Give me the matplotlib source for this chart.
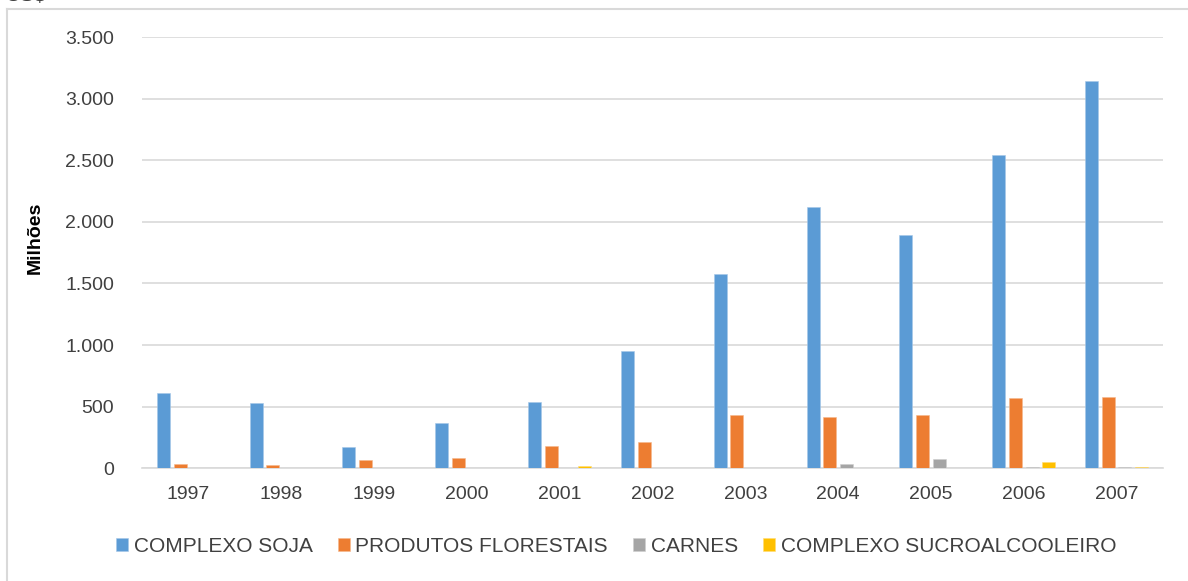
import matplotlib
matplotlib.use("Agg")
import matplotlib.pyplot as plt
from matplotlib.lines import Line2D
from matplotlib.ticker import FuncFormatter
from matplotlib.colors import to_rgb
import numpy as np

plt.rcParams['font.family'] = ['Liberation Sans', 'DejaVu Sans']

# Export values (US$ millions) per year and product group
years = ["1997", "1998", "1999", "2000", "2001", "2002", "2003", "2004", "2005", "2006", "2007"]
series_names = ["COMPLEXO SOJA", "PRODUTOS FLORESTAIS", "CARNES", "COMPLEXO SUCROALCOOLEIRO"]
complexo_soja = [609, 527, 170, 369, 535, 951, 1575, 2117, 1890, 2543, 3146]
produtos_florestais = [35, 24, 66, 85, 180, 213, 434, 420, 434, 568, 582]
carnes = [0, 0, 0, 0, 0, 0, 0, 33, 74, 12, 12]
complexo_sucroalcooleiro = [0, 0, 0, 0, 21, 0, 0, 0, 0, 54, 10]
y_ticks = [0, 500, 1000, 1500, 2000, 2500, 3000, 3500]

colors = ["#5B9BD5", "#ED7D31", "#A5A5A5", "#FFC000"]
series = [complexo_soja, produtos_florestais, carnes, complexo_sucroalcooleiro]


def lighten(c, f=0.45):
    r, g, b = to_rgb(c)
    return (r + (1 - r) * f, g + (1 - g) * f, b + (1 - b) * f)


W, H = 1188, 581
fig = plt.figure(figsize=(W / 100, H / 100), dpi=100)
fig.patch.set_facecolor("white")

ax_left, ax_right = 142, 1163
ax_top, ax_bottom = 37, 468.3
ax = fig.add_axes([ax_left / W, 1 - ax_bottom / H,
                   (ax_right - ax_left) / W, (ax_bottom - ax_top) / H])

x = np.arange(len(years))
pitch = 0.18
bar_w = 0.14
offsets = (np.arange(4) - 1.5) * pitch
for vals, off, c, name in zip(series, offsets, colors, series_names):
    ax.bar(x + off, vals, width=bar_w, color=c, edgecolor=lighten(c),
           linewidth=0.4, label=name, zorder=3)

ax.set_xlim(-0.5, len(years) - 0.5)
ax.set_ylim(0, 3500)
ax.set_yticks(y_ticks)
ax.yaxis.set_major_formatter(FuncFormatter(lambda v, p: f"{int(v):,}".replace(",", ".")))
ax.set_xticks(x)
ax.set_xticklabels(years)
ax.tick_params(axis="both", length=0, labelsize=14, labelcolor="#404040")
ax.tick_params(axis="y", pad=20)
ax.tick_params(axis="x", pad=13)

ax.grid(axis="y", color="#D9D9D9", linewidth=1.2, zorder=0)
ax.set_axisbelow(True)
for s in ["top", "right", "left"]:
    ax.spines[s].set_visible(False)
ax.spines["bottom"].set_color("#D9D9D9")
ax.spines["bottom"].set_linewidth(1.2)
ax.spines["bottom"].set_zorder(2)

fig.text(35 / W, 1 - 237.5 / H, "Milhões", rotation=90, ha="center", va="center",
         fontsize=14, fontweight="bold", color="black")

# Outer frame (left and top edges)
fig.add_artist(Line2D([7 / W, 7 / W], [0, 1 - 9 / H], transform=fig.transFigure,
                      color="#D9D9D9", linewidth=1.5))
fig.add_artist(Line2D([7 / W, 1], [1 - 9 / H, 1 - 9 / H], transform=fig.transFigure,
                      color="#D9D9D9", linewidth=1.5))
fig.text(6 / W, 1 - 1 / H, "US$", ha="left", va="baseline", fontsize=15,
         fontweight="bold", color="#404040")

leg = fig.legend(loc="center", bbox_to_anchor=(616 / W, 1 - 546 / H), ncol=4,
                 frameon=False, fontsize=15, handlelength=0.6, handleheight=0.6,
                 handletextpad=0.25, columnspacing=1.2, borderaxespad=0)
for t in leg.get_texts():
    t.set_color("#404040")

fig.savefig("out.png", dpi=100)
